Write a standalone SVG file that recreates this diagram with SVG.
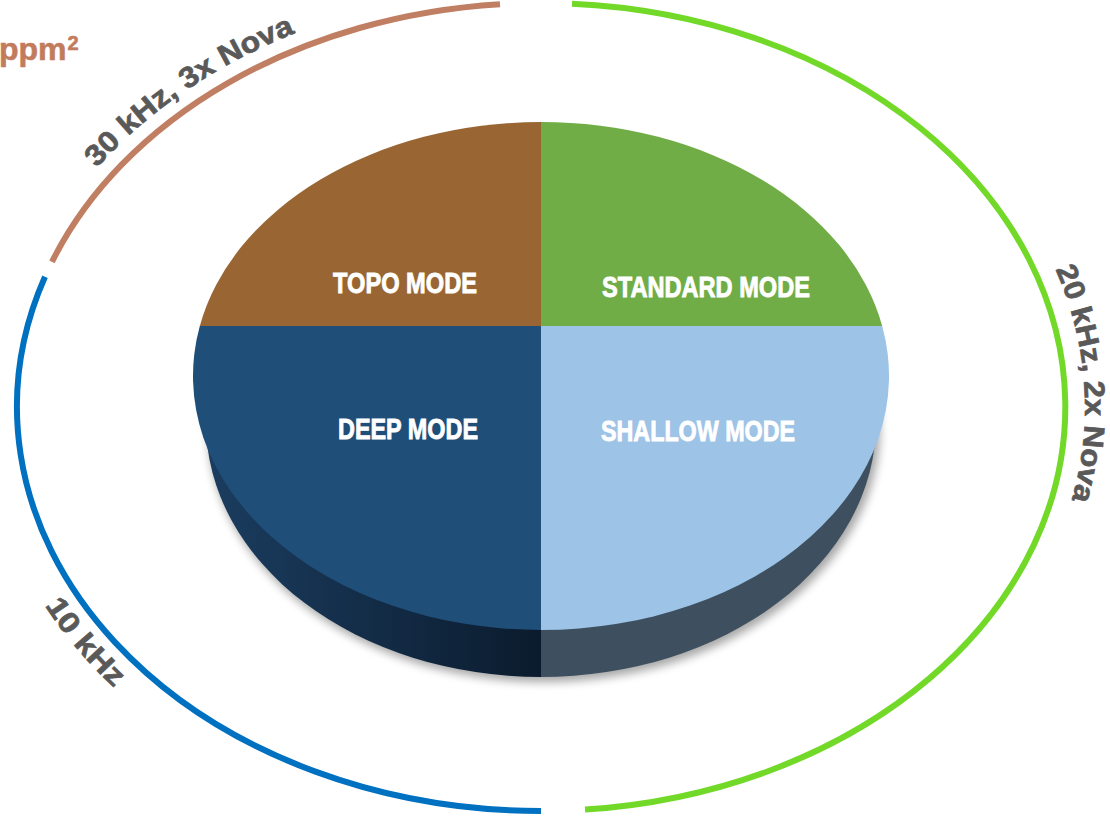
<svg xmlns="http://www.w3.org/2000/svg" width="1110" height="818" viewBox="0 0 1110 818">
  <defs>
    <style>
      .ring { fill: none; stroke-width: 6; stroke-linecap: butt; }
      .freq { font-family: "Liberation Sans", Arial, sans-serif; font-weight: bold; font-size: 29px; fill: #595959; stroke: #595959; stroke-width: 0.7; }
      .mode { font-family: "Liberation Sans", Arial, sans-serif; font-weight: bold; font-size: 30px; fill: #ffffff; stroke: #ffffff; stroke-width: 0.9; text-anchor: middle; }
    </style>
    <linearGradient id="sideLeft" x1="205" y1="0" x2="541" y2="0" gradientUnits="userSpaceOnUse">
      <stop offset="0" stop-color="#1b3d60"/>
      <stop offset="1" stop-color="#0b1b2d"/>
    </linearGradient>
    <clipPath id="leftHalf"><rect x="0" y="0" width="541" height="818"/></clipPath>
    <clipPath id="rightHalf"><rect x="541" y="0" width="569" height="818"/></clipPath>
    <filter id="soft" x="-20%" y="-20%" width="140%" height="140%">
      <feGaussianBlur stdDeviation="5"/>
    </filter>
    <!-- text baselines following the outer ellipse -->
    <path id="arcTopLeft" d="M30.4,270.3 A540,420 0 0 1 438,-5.3"/>
    <path id="arcRight" d="M997.2,176.1 A544,424 0 0 1 1025.7,599.5"/>
    <path id="arcLowerLeft" d="M3,520.1 A557,437 0 0 0 205.8,756"/>
  </defs>

  <rect width="1110" height="818" fill="#ffffff"/>

  <!-- outer frequency arcs -->
  <g id="frequency-arcs">
    <path class="ring" stroke="#72d929" d="M572,3.7 A524,404 0 0 1 585,809.6"/>
    <path class="ring" stroke="#0070c0" d="M541,811 A524,404 0 0 1 45,276.7"/>
    <path class="ring" stroke="#c07f62" d="M52,261.8 A524,404 0 0 1 500,4.2"/>
  </g>

  <g id="frequency-labels">
    <text class="freq"><textPath href="#arcTopLeft" startOffset="47.5%" text-anchor="middle" textLength="242" lengthAdjust="spacingAndGlyphs">30 kHz, 3x Nova</textPath></text>
    <text class="freq"><textPath href="#arcRight" startOffset="50%" text-anchor="middle" textLength="236" lengthAdjust="spacingAndGlyphs">20 kHz, 2x Nova</textPath></text>
    <text class="freq"><textPath href="#arcLowerLeft" startOffset="47%" text-anchor="middle" textLength="108" lengthAdjust="spacingAndGlyphs">10 kHz</textPath></text>
    <text x="-1" y="60" font-family="Liberation Sans, Arial, sans-serif" font-weight="bold" font-size="32" fill="#c27c5c" stroke="#c27c5c" stroke-width="0.6">ppm<tspan font-size="20" dy="-10" dx="1">2</tspan></text>
  </g>

  <!-- pie body: shadow and side wall -->
  <g id="pie-side">
    <ellipse cx="544" cy="428" rx="336" ry="254" fill="#000" opacity="0.35" filter="url(#soft)"/>
    <ellipse cx="541" cy="423" rx="335" ry="254" fill="url(#sideLeft)" clip-path="url(#leftHalf)"/>
    <ellipse cx="541" cy="423" rx="335" ry="254" fill="#3e4f5f" clip-path="url(#rightHalf)"/>
  </g>

  <g id="topo-mode">
    <path d="M541,326 L199.8,326 A348,254 0 0 1 541,122 Z" fill="#996633"/>
    <text class="mode" x="405" y="293" textLength="144" lengthAdjust="spacingAndGlyphs">TOPO MODE</text>
  </g>

  <g id="standard-mode">
    <path d="M541,326 L541,122 A348,254 0 0 1 882.2,326 Z" fill="#70ad47"/>
    <text class="mode" x="706" y="297" textLength="208" lengthAdjust="spacingAndGlyphs">STANDARD MODE</text>
  </g>

  <g id="shallow-mode">
    <path d="M541,326 L882.2,326 A348,254 0 0 1 541,630 Z" fill="#9dc3e6"/>
    <text class="mode" x="698" y="441" textLength="194" lengthAdjust="spacingAndGlyphs">SHALLOW MODE</text>
  </g>

  <g id="deep-mode">
    <path d="M541,326 L541,630 A348,254 0 0 1 199.8,326 Z" fill="#1f4e79"/>
    <text class="mode" x="408" y="439" textLength="140" lengthAdjust="spacingAndGlyphs">DEEP MODE</text>
  </g>
</svg>
